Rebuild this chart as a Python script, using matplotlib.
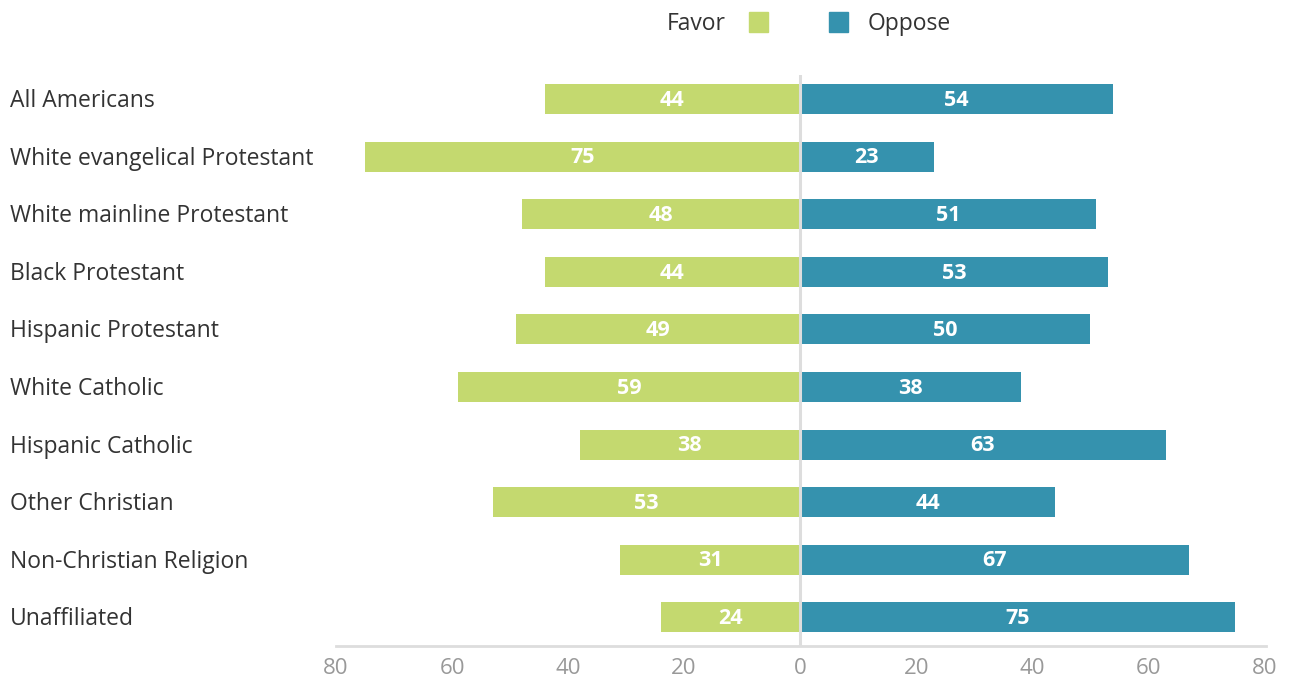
import matplotlib.pyplot as plt

plt.rcParams['font.family'] = ['Open Sans', 'DejaVu Sans']

# data
groups = ["All Americans", "White evangelical Protestant", "White mainline Protestant",
          "Black Protestant", "Hispanic Protestant", "White Catholic", "Hispanic Catholic",
          "Other Christian", "Non-Christian Religion", "Unaffiliated"]
favor = [44, 75, 48, 44, 49, 59, 38, 53, 31, 24]
oppose = [54, 23, 51, 53, 50, 38, 63, 44, 67, 75]
ticks = [-80, -60, -40, -20, 0, 20, 40, 60, 80]

green = "#c4d96f"
blue = "#3592ae"

fig = plt.figure(figsize=(12.93, 6.81), dpi=100)
ax = fig.add_axes([336 / 1293, 35 / 681, 930 / 1293, 571 / 681])

ys = list(range(len(groups)))
ax.barh(ys, [-v for v in favor], height=0.52, color=green)
ax.barh(ys, oppose, height=0.52, color=blue)

# value labels centred in each bar
for y, f, o in zip(ys, favor, oppose):
    ax.text(-f / 2, y + 0.02, str(f), ha="center", va="center", color="white",
            fontsize=15.5, fontweight="bold")
    ax.text(o / 2, y + 0.02, str(o), ha="center", va="center", color="white",
            fontsize=15.5, fontweight="bold")

ax.axvline(0, color="#dddddd", lw=2.2, zorder=3)
ax.set_xlim(-80, 80.3)
ax.set_ylim(9.5, -0.42)
ax.set_xticks(ticks)
ax.set_xticklabels([str(abs(t)) for t in ticks], color="#999999", fontsize=16)
ax.tick_params(axis="x", length=0, pad=9)
ax.set_yticks([])
for s in ["top", "right", "left"]:
    ax.spines[s].set_visible(False)
ax.spines["bottom"].set_color("#dddddd")
ax.spines["bottom"].set_linewidth(2)

# category labels, left aligned at the figure edge
for y, g in zip(ys, groups):
    ax.annotate(g, xy=(0, y), xycoords=("figure pixels", "data"),
                xytext=(10, -2), textcoords="offset pixels",
                ha="left", va="center", color="#333333", fontsize=16.5)

# legend
fig.text(726 / 1293, 1 - 24 / 681, "Favor", ha="right", va="center", color="#333333", fontsize=16.5)
fig.patches.append(plt.Rectangle((749 / 1293, 1 - 32 / 681), 19 / 1293, 20 / 681,
                                 transform=fig.transFigure, color=green))
fig.patches.append(plt.Rectangle((829 / 1293, 1 - 32 / 681), 19 / 1293, 20 / 681,
                                 transform=fig.transFigure, color=blue))
fig.text(868 / 1293, 1 - 24 / 681, "Oppose", ha="left", va="center", color="#333333", fontsize=16.5)

fig.savefig("out.png", dpi=100)
